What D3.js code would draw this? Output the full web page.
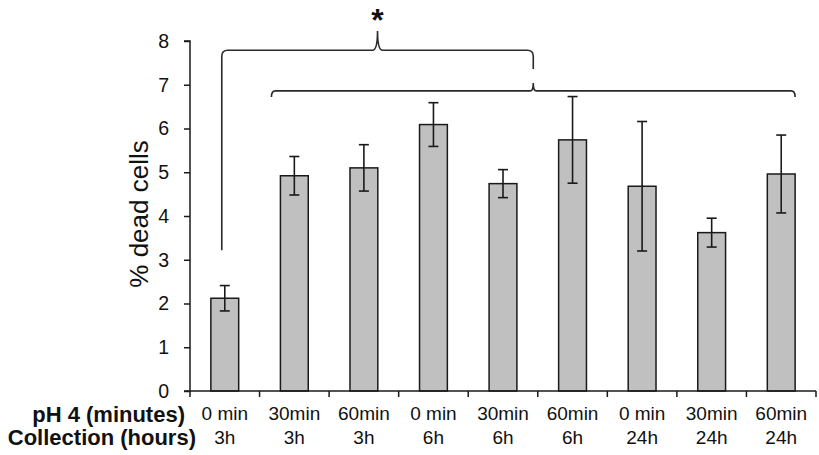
<!DOCTYPE html>
<html>
<head>
<meta charset="utf-8">
<script src="https://cdn.jsdelivr.net/npm/d3@7"></script>
<style>
  html, body { margin: 0; padding: 0; background: #fff; }
  svg { display: block; font-family: "Liberation Sans", Arial, Helvetica, sans-serif; }
</style>
</head>
<body>
<svg id="chart" width="819" height="455"></svg>
<script>
// ---- data ----
const phLabels = ["0 min", "30min", "60min", "0 min", "30min", "60min", "0 min", "30min", "60min"];
const collectionLabels = ["3h", "3h", "3h", "6h", "6h", "6h", "24h", "24h", "24h"];
const values = [2.12, 4.92, 5.10, 6.09, 4.74, 5.74, 4.68, 3.62, 4.96];
const errors = [0.29, 0.44, 0.53, 0.50, 0.32, 0.99, 1.48, 0.33, 0.89];
const yTicks = [0, 1, 2, 3, 4, 5, 6, 7, 8];
const rowLabels = ["pH 4 (minutes)", "Collection (hours)"];
const yTitle = "% dead cells";
const significance = "*";

// ---- layout ----
const svg = d3.select("#chart");
const x0 = 190, x1 = 816, yTop = 41, yBot = 391;
const ids = d3.range(values.length);

const x = d3.scaleBand().domain(ids).range([x0, x1]).paddingInner(0.6).paddingOuter(0.3);
const y = d3.scaleLinear().domain([0, 8]).range([yBot, yTop]);
const step = x.step(), bw = x.bandwidth();
const cx = i => x(i) + bw / 2;
const stroke = "#1a1a1a";

// bars
svg.append("g").selectAll("rect").data(values).join("rect")
  .attr("x", (d, i) => x(i))
  .attr("y", d => y(d))
  .attr("width", bw)
  .attr("height", d => y(0) - y(d))
  .attr("fill", "#c0c0c0")
  .attr("stroke", stroke)
  .attr("stroke-width", 1.5);

// error bars
const eg = svg.append("g").attr("stroke", stroke).attr("stroke-width", 1.6);
values.forEach((v, i) => {
  const c = cx(i), lo = y(v - errors[i]), hi = y(v + errors[i]);
  eg.append("line").attr("x1", c).attr("x2", c).attr("y1", lo).attr("y2", hi);
  eg.append("line").attr("x1", c - 5).attr("x2", c + 5).attr("y1", lo).attr("y2", lo);
  eg.append("line").attr("x1", c - 5).attr("x2", c + 5).attr("y1", hi).attr("y2", hi);
});

// y axis
const yAxis = d3.axisLeft(y).tickValues(yTicks).tickSize(6).tickPadding(15).tickFormat(d3.format("d"));
const ya = svg.append("g").attr("transform", `translate(${x0},0)`).call(yAxis);
ya.select(".domain").attr("stroke", stroke).attr("stroke-width", 1.5).attr("d", `M-6,${yTop}H0V${yBot}H-6`);
ya.selectAll(".tick line").attr("stroke", stroke).attr("stroke-width", 1.5);
ya.selectAll(".tick text").attr("font-size", 19.5).attr("fill", "#111").attr("font-family", "Liberation Sans, Arial, sans-serif");

// x axis baseline and boundary ticks
const boundaries = ids.map(i => x(i) - (step - bw) / 2).concat([x1]);
svg.append("line").attr("x1", x0).attr("x2", x1).attr("y1", yBot).attr("y2", yBot)
  .attr("stroke", stroke).attr("stroke-width", 1.5);
svg.append("g").selectAll("line").data(boundaries).join("line")
  .attr("x1", d => d).attr("x2", d => d).attr("y1", yBot).attr("y2", yBot + 6)
  .attr("stroke", stroke).attr("stroke-width", 1.5);

// category labels
svg.append("g").selectAll("text").data(phLabels).join("text")
  .attr("x", (d, i) => cx(i)).attr("y", 420)
  .attr("text-anchor", "middle").attr("font-size", 19).attr("fill", "#111")
  .text(d => d);
svg.append("g").selectAll("text").data(collectionLabels).join("text")
  .attr("x", (d, i) => cx(i)).attr("y", 444)
  .attr("text-anchor", "middle").attr("font-size", 19).attr("fill", "#111")
  .text(d => d);

// row labels
svg.append("text").attr("x", 185).attr("y", 421.5).attr("text-anchor", "end")
  .attr("font-size", 22).attr("font-weight", "bold").attr("fill", "#111").text(rowLabels[0]);
svg.append("text").attr("x", 196).attr("y", 444.5).attr("text-anchor", "end")
  .attr("font-size", 22).attr("font-weight", "bold").attr("fill", "#111").text(rowLabels[1]);

// y title
svg.append("text").attr("transform", `translate(148,214) rotate(-90)`)
  .attr("text-anchor", "middle").attr("font-size", 26).attr("fill", "#111").text(yTitle);

// brackets
const bg = svg.append("g").attr("fill", "none").attr("stroke", "#2a2a2a").attr("stroke-width", 1.6);
const lowL = x(1) - 9, lowR = x(8) + bw, lowMid = (lowL + lowR) / 2;
const lowY = y(6.86), lowEnd = y(6.72), lowTick = y(7.04);
bg.append("path").attr("d",
  `M${lowL},${lowEnd} Q${lowL},${lowY} ${lowL + 4},${lowY} L${lowMid - 3},${lowY} Q${lowMid},${lowY} ${lowMid},${lowTick}` +
  ` Q${lowMid},${lowY} ${lowMid + 3},${lowY} L${lowR - 4},${lowY} Q${lowR},${lowY} ${lowR},${lowEnd}`);

const upL = cx(0) - 3, upR = lowMid, upMid = (upL + upR) / 2;
const upY = y(7.79), upTop = y(8.23), upLeftEnd = y(3.22), upRightEnd = y(7.36);
bg.append("path").attr("d",
  `M${upL},${upLeftEnd} L${upL},${upY + 6} Q${upL},${upY} ${upL + 6},${upY} L${upMid - 5},${upY} Q${upMid},${upY} ${upMid},${upTop}` +
  ` Q${upMid},${upY} ${upMid + 5},${upY} L${upR - 6},${upY} Q${upR},${upY} ${upR},${upY + 6} L${upR},${upRightEnd}`);

svg.append("text").attr("x", upMid).attr("y", 31).attr("text-anchor", "middle")
  .attr("font-size", 32).attr("font-weight", "bold").attr("fill", "#111").text(significance);
</script>
</body>
</html>
